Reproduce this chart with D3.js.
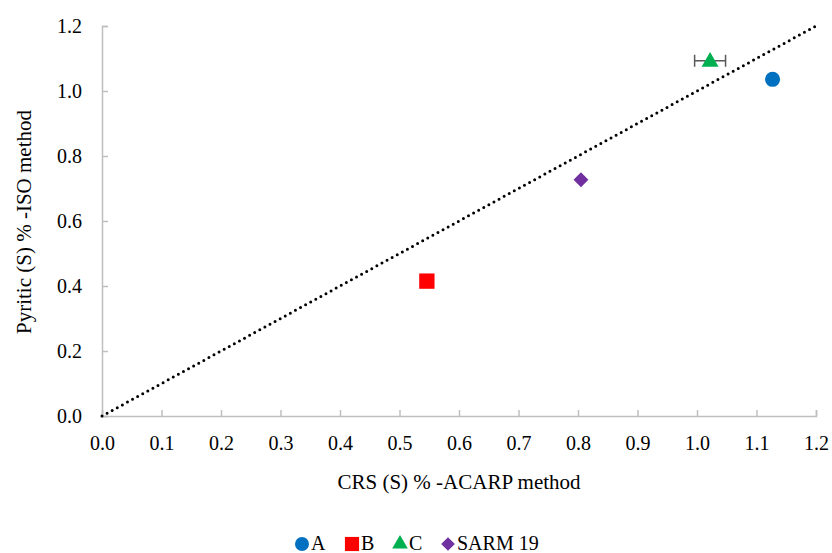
<!DOCTYPE html>
<html><head><meta charset="utf-8">
<script src="https://cdn.jsdelivr.net/npm/d3@7"></script>
<style>body{margin:0;background:#fff}svg{display:block}</style>
</head><body>
<svg id="c" width="832" height="553" font-family="Liberation Serif"></svg>
<script>
const seriesNames = ["A", "B", "C", "SARM 19"];
const xValues = [1.127, 0.546, 1.022, 0.805];
const yValues = [1.036, 0.415, 1.093, 0.727];
const xErrors = [0, 0, 0.026, 0];
const colors = ["#0070C0", "#FF0000", "#00B050", "#7030A0"];
const symbols = [d3.symbolCircle, d3.symbolSquare, d3.symbolTriangle, d3.symbolSquare];
const symRot = [0, 0, 0, 45];
const symSizes = [180, 235, 125, 110];
const xTicks = [0,0.1,0.2,0.3,0.4,0.5,0.6,0.7,0.8,0.9,1.0,1.1,1.2];
const yTicks = [0,0.2,0.4,0.6,0.8,1.0,1.2];
const lineData = [[0,0],[1.2,1.2]];

const FONT = "Liberation Serif";
const svg = d3.select("#c");
const x = d3.scaleLinear().domain([0,1.2]).range([102,816]);
const y = d3.scaleLinear().domain([0,1.2]).range([416,26]);
const axisColor = "#BFBFBF";

const gx = svg.append("g").attr("transform","translate(0,416)")
  .call(d3.axisBottom(x).tickValues(xTicks).tickSize(-6).tickPadding(20).tickFormat(d3.format(".1f")));
const gy = svg.append("g").attr("transform","translate(102,0)")
  .call(d3.axisLeft(y).tickValues(yTicks).tickSize(-6).tickPadding(20).tickFormat(d3.format(".1f")));
[gx,gy].forEach(g=>{
  g.attr("font-family",FONT).attr("font-size",20);
  g.selectAll("path.domain").attr("stroke",axisColor).attr("stroke-width",1.5);
  g.selectAll(".tick line").attr("stroke",axisColor).attr("stroke-width",1.5);
  g.selectAll(".tick text").attr("fill","#000").attr("font-family",FONT).attr("font-size",20);
});
gx.selectAll(".tick text").attr("dy","0.71em");

// 1:1 line
svg.append("path").datum(lineData)
  .attr("d", d3.line().x(d=>x(d[0])).y(d=>y(d[1])))
  .attr("fill","none").attr("stroke","#000").attr("stroke-width",3)
  .attr("stroke-dasharray","0 5.8").attr("stroke-linecap","round");

// error bars
seriesNames.forEach((n,i)=>{
  if(xErrors[i]>0){
    const g = svg.append("g").attr("stroke","#595959").attr("stroke-width",1.5);
    const yy = y(yValues[i]);
    g.append("line").attr("x1",x(xValues[i]-xErrors[i])).attr("x2",x(xValues[i]+xErrors[i])).attr("y1",yy).attr("y2",yy);
    [xValues[i]-xErrors[i], xValues[i]+xErrors[i]].forEach(v=>{
      g.append("line").attr("x1",x(v)).attr("x2",x(v)).attr("y1",yy-6).attr("y2",yy+6);
    });
  }
});

// points
seriesNames.forEach((n,i)=>{
  svg.append("path")
    .attr("d", d3.symbol().type(symbols[i]).size(symSizes[i])())
    .attr("transform",`translate(${x(xValues[i])},${y(yValues[i]) + (i===2?1:0)}) rotate(${symRot[i]})`)
    .attr("fill",colors[i]);
});

// axis titles
svg.append("text").attr("x",459).attr("y",489).attr("text-anchor","middle")
  .attr("font-family",FONT).attr("font-size",21).text("CRS (S) % -ACARP method");
svg.append("text").attr("transform","translate(31,222) rotate(-90)").attr("text-anchor","middle")
  .attr("font-family",FONT).attr("font-size",21).text("Pyritic (S) % -ISO method");

// legend
const legX = [302, 352, 400, 448];
seriesNames.forEach((n,i)=>{
  svg.append("path").attr("d", d3.symbol().type(symbols[i]).size(symSizes[i]*0.85)())
    .attr("transform",`translate(${legX[i]},544) rotate(${symRot[i]})`).attr("fill",colors[i]);
  svg.append("text").attr("x",legX[i]+9).attr("y",550)
    .attr("font-family",FONT).attr("font-size",20).text(n);
});
</script>
</body></html>
